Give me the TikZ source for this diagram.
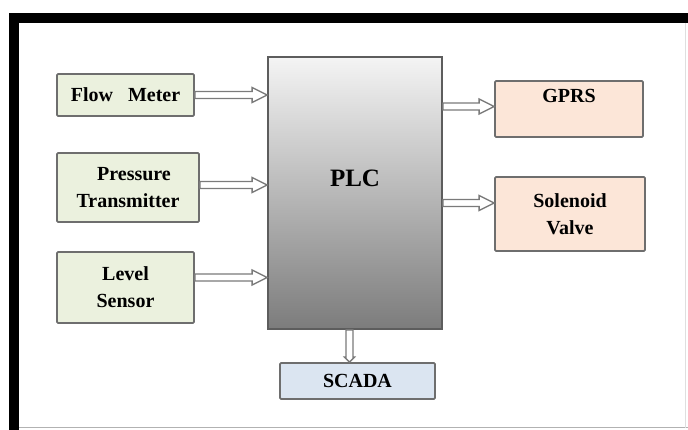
\documentclass[tikz,border=0pt]{standalone}
\usepackage{fontspec}
\setmainfont{Liberation Serif}
\usetikzlibrary{calc}

\definecolor{inputfill}{HTML}{EBF1DE}
\definecolor{outputfill}{HTML}{FCE6D8}
\definecolor{scadafill}{HTML}{DBE5F1}
\definecolor{boxline}{HTML}{6E6E6E}
\definecolor{arrowline}{HTML}{7A7A7A}
\definecolor{plctop}{HTML}{F4F4F4}
\definecolor{plcbottom}{HTML}{7C7C7C}

\tikzset{
  blockbox/.style={draw=boxline, line width=1.8pt, rounded corners=1.2pt,
    align=center, font=\fontsize{20}{27}\selectfont\bfseries, text=black,
    inner sep=0pt},
  inbox/.style={blockbox, fill=inputfill},
  outbox/.style={blockbox, fill=outputfill},
  scadabox/.style={blockbox, fill=scadafill},
  plcbox/.style={draw=boxline!85!black, line width=1.8pt, top color=plctop,
    bottom color=plcbottom, font=\fontsize{25}{30}\selectfont\bfseries,
    inner sep=0pt},
  % hollow block arrow, left to right
  harrow/.style={draw=arrowline, fill=white, line width=1.3pt, line join=miter,
    to path={let \p1=(\tikztostart), \p2=(\tikztotarget) in
      (\x1,\y1+3.5pt) -- (\x2-15pt,\y1+3.5pt) -- (\x2-15pt,\y1+7.5pt)
      -- (\x2,\y1) -- (\x2-15pt,\y1-7.5pt) -- (\x2-15pt,\y1-3.5pt)
      -- (\x1,\y1-3.5pt) -- cycle}},
  % hollow block arrow, top to bottom
  varrow/.style={draw=arrowline, fill=white, line width=1.3pt, line join=miter,
    to path={let \p1=(\tikztostart), \p2=(\tikztotarget) in
      (\x1+3.5pt,\y1) -- (\x1+3.5pt,\y2+5pt) -- (\x1+5pt,\y2+5pt)
      -- (\x1,\y2) -- (\x1-5pt,\y2+5pt) -- (\x1-3.5pt,\y2+5pt)
      -- (\x1-3.5pt,\y1) -- cycle}}
}

\begin{document}
\begin{tikzpicture}[x=1pt,y=-1pt]
\useasboundingbox (0,0) rectangle (688,430);
\fill[white] (0,0) rectangle (688,430);

% outer frame
\fill[black] (9,13) rectangle (688,23);
\fill[black] (9,13) rectangle (19,430);
\draw[gray!60, line width=0.9pt] (19,427.8) -- (688,427.8);
\draw[gray!25, line width=0.7pt] (685.5,23) -- (685.5,427.8);

% controller
\node[plcbox, minimum width=174pt, minimum height=272pt,
      text height=17pt, text depth=29pt] (plc) at (355,193) {PLC};

% inputs
\node[inbox, minimum width=137pt, minimum height=42pt] (fm) at (125.5,95)
  {Flow\hspace{0.75em}Meter};
\node[inbox, minimum width=142pt, minimum height=69pt] (pt) at (128,187.5)
  {\hspace{0.6em}Pressure\\Transmitter};
\node[inbox, minimum width=137pt, minimum height=71pt] (ls) at (125.5,287.5)
  {Level\\Sensor};

% outputs
\node[outbox, minimum width=148pt, minimum height=56pt,
      text height=14pt, text depth=26pt] (gprs) at (569,109) {GPRS};
\node[outbox, minimum width=150pt, minimum height=74pt] (sv) at (570,214)
  {Solenoid\\Valve};

% supervisory system
\node[scadabox, minimum width=155pt, minimum height=36pt] (scada)
  at (357.5,381) {SCADA};

% arrow anchor points
\coordinate (ptout) at ([yshift=2.5pt]pt.east);
\coordinate (lsout) at ([yshift=10pt]ls.east);
\coordinate (gprsin) at ([yshift=2.5pt]gprs.west);
\coordinate (svin) at ([yshift=11pt]sv.west);
\coordinate (plcout) at ([xshift=-5.5pt]plc.south);

% signal flow
\draw[harrow] (fm.east) to (plc.west |- fm.east);
\draw[harrow] (ptout) to (plc.west |- ptout);
\draw[harrow] (lsout) to (plc.west |- lsout);
\draw[harrow] (plc.east |- gprsin) to (gprsin);
\draw[harrow] (plc.east |- svin) to (svin);
\draw[varrow] (plcout) to (plcout |- scada.north);
\end{tikzpicture}
\end{document}
